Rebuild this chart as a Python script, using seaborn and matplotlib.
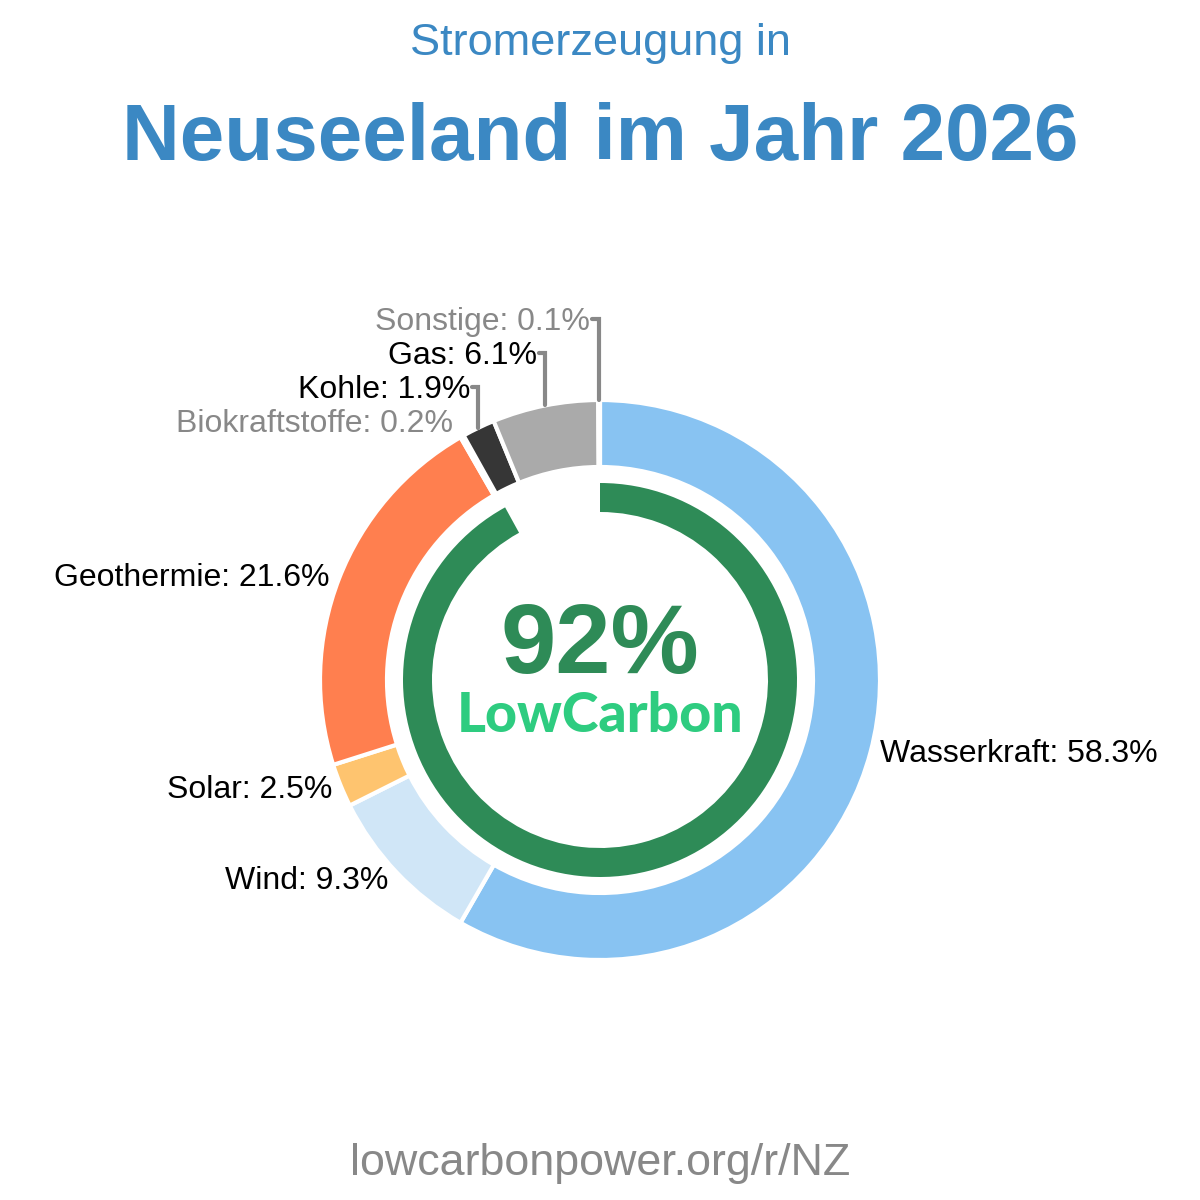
import numpy as np
import seaborn as sns
import matplotlib.pyplot as plt

sources = ["Wasserkraft", "Wind", "Solar", "Geothermie",
           "Biokraftstoffe", "Kohle", "Gas", "Sonstige"]
shares = [58.3, 9.3, 2.5, 21.6, 0.2, 1.9, 6.1, 0.1]
colors = ["#88c3f2", "#d0e6f7", "#fec46f", "#ff7f4f",
          "#8fbc8f", "#363636", "#aaaaaa", "#7f7f7f"]
low_carbon = 92

sns.set_theme(style="white")
plt.rcParams["font.family"] = ["Liberation Sans", "DejaVu Sans"]

H = 1200
cx, cy = 600, H - 680

fig = plt.figure(figsize=(12, 12), dpi=100)
ax = fig.add_axes([0, 0, 1, 1])

wedges, _ = ax.pie(shares, colors=colors, startangle=90, counterclock=False,
                   radius=280, center=(cx, cy),
                   wedgeprops=dict(width=67, edgecolor="white", linewidth=3))

# inner low-carbon ring
ax.pie([low_carbon, 100 - low_carbon], colors=["#2e8b57", "none"],
       startangle=90, counterclock=False, radius=197, center=(cx, cy),
       wedgeprops=dict(width=29, linewidth=0))

ax.set_xlim(0, 1200)
ax.set_ylim(0, 1200)
ax.set_aspect("equal")
ax.axis("off")

# label layout: (x, baseline y in px, ha, color, leader)
layout = {
    "Wasserkraft": (880, 762, "left", "black", False),
    "Wind": (388, 889, "right", "black", False),
    "Solar": (332, 798, "right", "black", False),
    "Geothermie": (330, 586, "right", "black", False),
    "Biokraftstoffe": (453, 432, "right", "#888888", False),
    "Kohle": (470, 398, "right", "black", True),
    "Gas": (537, 364, "right", "black", True),
    "Sonstige": (590, 330, "right", "#888888", True),
}

for w, name, val in zip(wedges, sources, shares):
    x, yb, ha, col, leader = layout[name]
    ax.text(x, H - yb, f"{name}: {val}%", ha=ha, va="baseline",
            fontsize=23, color=col)
    if leader:
        ang = np.deg2rad((w.theta1 + w.theta2) / 2)
        ax_ = cx + 280 * np.cos(ang)
        ay_ = cy + 280 * np.sin(ang)
        ly = H - yb + 11
        ax.plot([x + 2, ax_, ax_], [ly, ly, ay_], color="#888888",
                lw=3, solid_joinstyle="miter")

ax.text(600, H - 673, f"{low_carbon}%", ha="center", va="baseline",
        fontsize=71.5, fontweight="bold", color="#2e8b57")
ax.text(600, H - 732, "LowCarbon", ha="center", va="baseline",
        fontsize=40, fontweight="black", color="#2ecc80", family="Lato")

fig.text(0.5, 1 - 55 / H, "Stromerzeugung in", ha="center", va="baseline",
         fontsize=32.5, color="#3b88c3")
fig.text(0.5, 1 - 160 / H, "Neuseeland im Jahr 2026", ha="center",
         va="baseline", fontsize=57.6, fontweight="bold", color="#3b88c3")
fig.text(0.5, 1 - 1175 / H, "lowcarbonpower.org/r/NZ", ha="center",
         va="baseline", fontsize=32.3, color="#888888")

fig.savefig("out.png", dpi=100, facecolor="white")
